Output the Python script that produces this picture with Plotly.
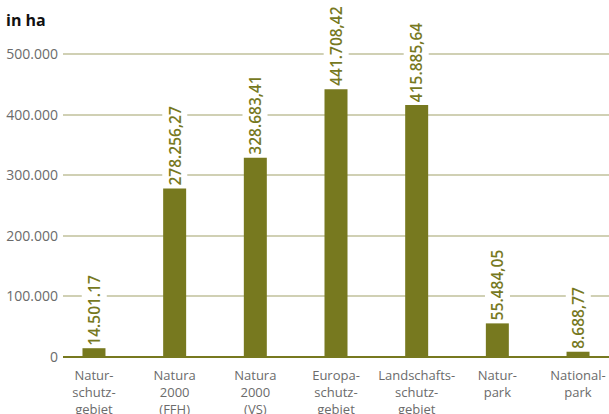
import plotly.graph_objects as go

categories = ["Natur-<br>schutz-<br>gebiet", "Natura<br>2000<br>(FFH)", "Natura<br>2000<br>(VS)",
              "Europa-<br>schutz-<br>gebiet", "Landschafts-<br>schutz-<br>gebiet", "Natur-<br>park", "National-<br>park"]
values = [14501.17, 278256.27, 328683.41, 441708.42, 415885.64, 55484.05, 8688.77]
value_labels = ["14.501.17", "278.256,27", "328.683,41", "441.708,42", "415.885,64", "55.484,05", "8.688,77"]
y_tickvals = [0, 100000, 200000, 300000, 400000, 500000]
y_ticktext = ["0", "100.000", "200.000", "300.000", "400.000", "500.000"]

OLIVE = "#77791f"
GREY = "#6b6b6b"
FONT = "Open Sans"

xs = list(range(len(categories)))

fig = go.Figure(go.Bar(x=xs, y=values, marker=dict(color=OLIVE, line=dict(width=0)), width=0.285,
                       hoverinfo="skip"))

for x, v, t in zip(xs, values, value_labels):
    fig.add_annotation(x=x, y=v, text=t, textangle=-90, showarrow=False, xanchor="center",
                       yanchor="bottom", yshift=1, bgcolor="white", borderpad=1,
                       font=dict(family=FONT, size=15.5, color=OLIVE, weight=600))

fig.update_layout(
    width=609, height=414,
    margin=dict(l=63, r=0, t=24, b=57),
    paper_bgcolor="white", plot_bgcolor="white",
    showlegend=False,
    font=dict(family=FONT, size=14, color=GREY),
    title=dict(text="<b>in ha</b>", x=6/609, xanchor="left", xref="container",
               y=1 - 20/414, yanchor="middle", yref="container",
               font=dict(family=FONT, size=16, color="#111111")),
)
fig.update_xaxes(range=[-0.384, 6.384], tickvals=xs, ticktext=categories, showgrid=False,
                 zeroline=False, showline=False, ticks="", automargin=False, ticklabelstandoff=9,
                 tickfont=dict(family=FONT, size=13, color=GREY))
fig.update_yaxes(range=[0, 549500], tickvals=y_tickvals, ticktext=y_ticktext, showgrid=True,
                 gridcolor="#d0d0b4", gridwidth=1.5, zeroline=True, zerolinecolor=OLIVE, zerolinewidth=2,
                 showline=False, ticks="", automargin=False, ticklabelstandoff=4,
                 tickfont=dict(family=FONT, size=14, color=GREY))

fig.write_html("out.html", config={"displayModeBar": False},
               post_script="document.body.style.margin='0';")
